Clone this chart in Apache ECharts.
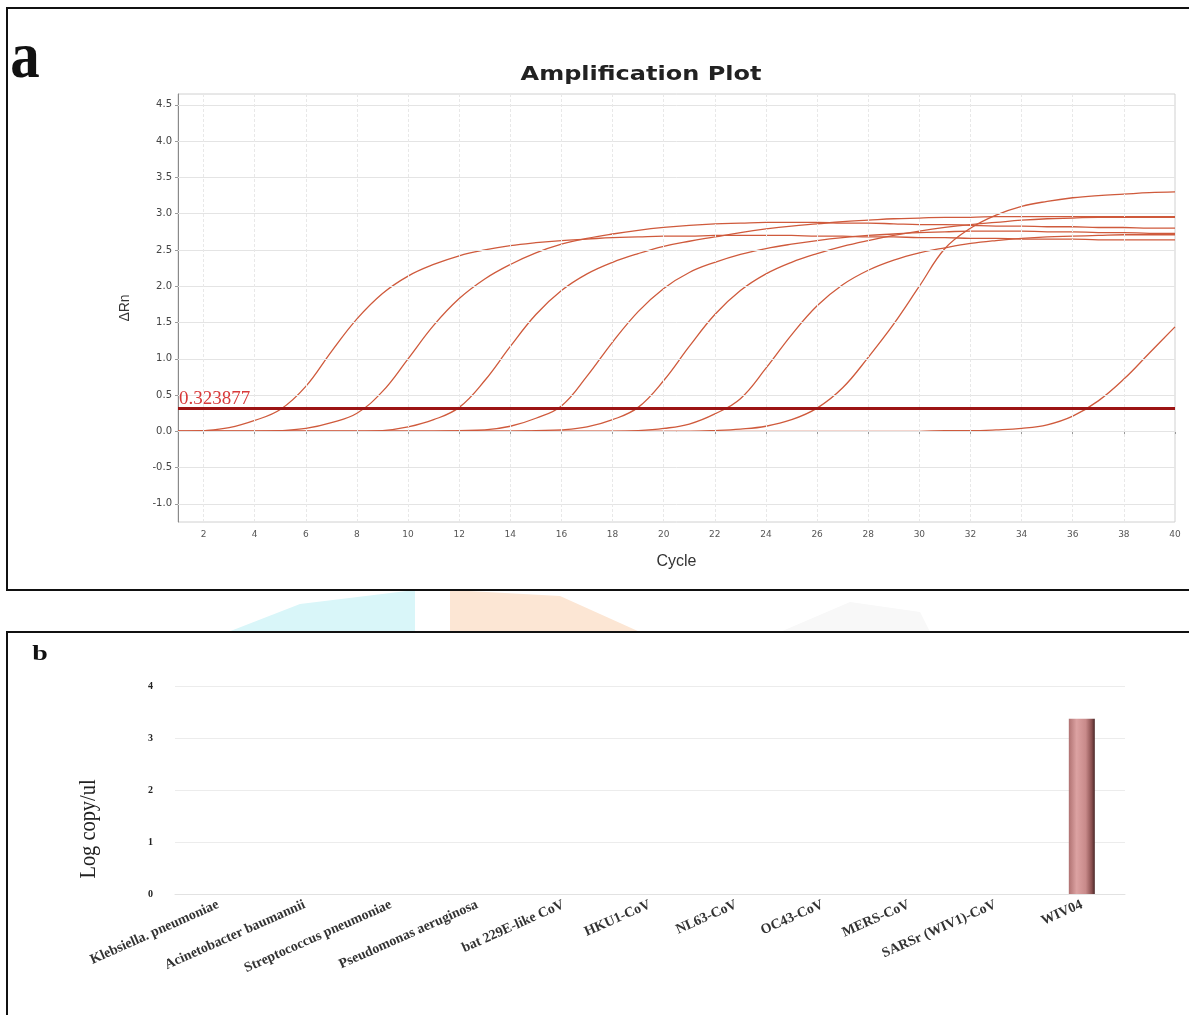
<!DOCTYPE html>
<html>
<head>
<meta charset="utf-8">
<script src="https://cdn.jsdelivr.net/npm/echarts@6/dist/echarts.min.js"></script>
<style>
html,body{margin:0;padding:0;background:#fff;}
#chart{width:1189px;height:1015px;}
</style>
</head>
<body>
<div id="chart"></div>
<script>
// ---------- Panel a data ----------
const cycles = [1,2,3,4,5,6,7,8,9,10,11,12,13,14,15,16,17,18,19,20,21,22,23,24,25,26,27,28,29,30,31,32,33,34,35,36,37,38,39,40];
const cycleTicks = [2,4,6,8,10,12,14,16,18,20,22,24,26,28,30,32,34,36,38,40];
const deltaRnTicks = [-1.0,-0.5,0.0,0.5,1.0,1.5,2.0,2.5,3.0,3.5,4.0,4.5];
const threshold = 0.323877;

const curve1 = [0.00,0.01,0.05,0.15,0.30,0.62,1.10,1.55,1.90,2.14,2.30,2.42,2.50,2.56,2.60,2.63,2.65,2.67,2.68,2.69,2.69,2.70,2.70,2.70,2.70,2.69,2.69,2.68,2.68,2.67,2.67,2.66,2.66,2.65,2.65,2.65,2.64,2.64,2.64,2.64];
const curve2 = [0.00,0.00,0.00,0.00,0.01,0.04,0.12,0.25,0.55,1.00,1.46,1.83,2.10,2.30,2.46,2.58,2.66,2.72,2.77,2.81,2.84,2.86,2.87,2.88,2.88,2.88,2.87,2.87,2.86,2.85,2.85,2.84,2.83,2.83,2.82,2.82,2.81,2.81,2.80,2.80];
const curve3 = [0.00,0.00,0.00,0.00,0.00,0.00,0.00,0.00,0.01,0.06,0.16,0.33,0.70,1.17,1.61,1.94,2.17,2.33,2.45,2.55,2.62,2.68,2.74,2.79,2.83,2.86,2.89,2.91,2.93,2.94,2.95,2.95,2.96,2.96,2.96,2.96,2.96,2.96,2.96,2.96];
const curve4 = [0.00,0.00,0.00,0.00,0.00,0.00,0.00,0.00,0.00,0.00,0.00,0.01,0.02,0.07,0.18,0.35,0.76,1.23,1.65,1.97,2.19,2.33,2.44,2.52,2.58,2.63,2.67,2.70,2.72,2.74,2.75,2.76,2.76,2.76,2.75,2.75,2.74,2.74,2.73,2.73];
const curve5 = [0.00,0.00,0.00,0.00,0.00,0.00,0.00,0.00,0.00,0.00,0.00,0.00,0.00,0.00,0.01,0.02,0.06,0.16,0.33,0.70,1.17,1.61,1.94,2.17,2.33,2.45,2.55,2.63,2.70,2.76,2.81,2.85,2.88,2.91,2.93,2.94,2.95,2.95,2.95,2.95];
const curve6 = [0.00,0.00,0.00,0.00,0.00,0.00,0.00,0.00,0.00,0.00,0.00,0.00,0.00,0.00,0.00,0.00,0.00,0.00,0.01,0.04,0.10,0.24,0.45,0.87,1.33,1.73,2.02,2.22,2.36,2.46,2.53,2.59,2.63,2.66,2.68,2.69,2.70,2.71,2.71,2.71];
const curve7 = [0.00,0.00,0.00,0.00,0.00,0.00,0.00,0.00,0.00,0.00,0.00,0.00,0.00,0.00,0.00,0.00,0.00,0.00,0.00,0.00,0.00,0.01,0.03,0.07,0.16,0.32,0.60,1.02,1.48,2.00,2.52,2.80,2.98,3.10,3.17,3.22,3.25,3.27,3.29,3.30];
const curve8 = [0.00,0.00,0.00,0.00,0.00,0.00,0.00,0.00,0.00,0.00,0.00,0.00,0.00,0.00,0.00,0.00,0.00,0.00,0.00,0.00,0.00,0.00,0.00,0.00,0.00,0.00,0.00,0.00,0.00,0.00,0.01,0.01,0.02,0.04,0.09,0.21,0.42,0.72,1.08,1.44];
const curves = [curve1,curve2,curve3,curve4,curve5,curve6,curve7,curve8];

// ---------- Panel b data ----------
const species = ['Klebsiella. pneumoniae','Acinetobacter baumannii','Streptococcus pneumoniae','Pseudomonas aeruginosa','bat 229E-like CoV','HKU1-CoV','NL63-CoV','OC43-CoV','MERS-CoV','SARSr (WIV1)-CoV','WIV04'];
const logCopies = [0,0,0,0,0,0,0,0,0,0,3.37];
const logTicks = [0,1,2,3,4];

// ---------- build ----------
const chart = echarts.init(document.getElementById('chart'), null, {renderer:'canvas'});

const curveSeries = curves.map(function(vals){
  return {
    type:'line', xAxisIndex:0, yAxisIndex:0, z:4,
    data: cycles.map(function(c, j){ return [c, vals[j]]; }),
    smooth:0.4, showSymbol:false, symbol:'none',
    lineStyle:{color:'#cf5a3c', width:1.3},
    silent:true
  };
});

const gridLineSeries = {
  type:'line', xAxisIndex:0, yAxisIndex:0, z:1, data:[], silent:true,
  markLine:{
    silent:true, symbol:['none','none'], animation:false,
    label:{show:false},
    lineStyle:{color:'#e4e4e4', width:1, type:'solid'},
    data: deltaRnTicks.map(function(v){ return {yAxis:v}; })
      .concat(cycleTicks.map(function(v){ return {xAxis:v, lineStyle:{color:'#e8e8e8', type:[3,2]}}; }))
  }
};

const thresholdSeries = {
  type:'line', xAxisIndex:0, yAxisIndex:0, z:6, data:[], silent:true,
  markLine:{
    silent:true, symbol:['none','none'], animation:false,
    lineStyle:{color:'#9c1414', width:3, type:'solid'},
    label:{show:true, position:'insideStartTop', formatter:'0.323877', color:'#d83a3a',
      fontFamily:'Liberation Serif', fontSize:19, distance:[1,0]},
    data:[{yAxis:threshold}]
  }
};

const barSeries = {
  type:'bar', xAxisIndex:1, yAxisIndex:1, data:logCopies, barWidth:26, silent:true,
  itemStyle:{
    color: new echarts.graphic.LinearGradient(0,0,1,0,[
      {offset:0, color:'#b07272'},
      {offset:0.3, color:'#dca2a2'},
      {offset:0.65, color:'#c88a8a'},
      {offset:0.88, color:'#8a5050'},
      {offset:1, color:'#4a2828'}
    ])
  }
};

const option = {
  animation:false,
  backgroundColor:'#ffffff',
  grid:[
    {left:178, top:94, width:997, height:428, show:true, borderColor:'#d0d0d0', borderWidth:1, backgroundColor:'transparent'},
    {left:175, top:686, width:950, height:208, show:false}
  ],
  xAxis:[
    {gridIndex:0, type:'value', min:1, max:40,
      name:'Cycle', nameLocation:'middle', nameGap:32,
      nameTextStyle:{fontFamily:'Liberation Sans', fontSize:16, color:'#333'},
      axisLine:{show:true, lineStyle:{color:'#8a8a8a'}},
      axisTick:{show:true, length:3, lineStyle:{color:'#999'}, customValues:cycleTicks},
      axisLabel:{fontSize:9, color:'#555', fontFamily:'DejaVu Sans', margin:8, customValues:cycleTicks},
      splitLine:{show:false}
    },
    {gridIndex:1, type:'category', data:species,
      axisLine:{show:true, lineStyle:{color:'#e2e2e2'}},
      axisTick:{show:false},
      axisLabel:{interval:0, rotate:24, fontFamily:'Liberation Serif', fontWeight:'bold', fontSize:14, color:'#333', margin:10},
      splitLine:{show:false}
    }
  ],
  yAxis:[
    {gridIndex:0, type:'value', min:-1.25, max:4.65,
      name:'ΔRn', nameLocation:'middle', nameGap:46,
      nameTextStyle:{fontFamily:'Liberation Sans', fontSize:14, color:'#333'},
      axisLine:{show:true, lineStyle:{color:'#8a8a8a'}},
      axisTick:{show:true, length:3, lineStyle:{color:'#999'}, customValues:deltaRnTicks},
      axisLabel:{fontSize:10, color:'#444', fontFamily:'DejaVu Sans', margin:6, customValues:deltaRnTicks,
        formatter:function(v){ return v.toFixed(1); }},
      splitLine:{show:false}
    },
    {gridIndex:1, type:'value', min:0, max:4, interval:1,
      axisLine:{show:false}, axisTick:{show:false},
      axisLabel:{fontFamily:'Liberation Serif', fontWeight:'bold', fontSize:10, color:'#222', margin:22},
      splitLine:{show:true, lineStyle:{color:'#ececec', width:1}}
    }
  ],
  series:[gridLineSeries].concat(curveSeries).concat([thresholdSeries, barSeries]),
  graphic:[
    // watermark fragments between panels
    {type:'polygon', silent:true, z:0, shape:{points:[[228,632],[300,604],[415,590],[415,632]]}, style:{fill:'#d9f6f9'}},
    {type:'polygon', silent:true, z:0, shape:{points:[[450,590],[560,596],[640,632],[450,632]]}, style:{fill:'#fce6d4'}},
    {type:'polygon', silent:true, z:0, shape:{points:[[780,632],[850,602],[920,612],[930,632]]}, style:{fill:'#f8f8f8'}},
    // panel borders
    {type:'rect', silent:true, z:10, shape:{x:7, y:8, width:1192, height:582}, style:{fill:'none', stroke:'#111', lineWidth:2}},
    {type:'rect', silent:true, z:10, shape:{x:7, y:632, width:1192, height:420}, style:{fill:'none', stroke:'#111', lineWidth:2}},
    // panel letters
    {type:'text', silent:true, z:10, x:25, y:60, scaleX:0.95, scaleY:1.05, style:{text:'a', font:'bold 62px "Liberation Serif"', fill:'#111', textAlign:'center', textVerticalAlign:'middle'}},
    {type:'text', silent:true, z:10, x:40, y:655, scaleX:1.4, style:{text:'b', font:'bold 20px "Liberation Serif"', fill:'#111', textAlign:'center', textVerticalAlign:'middle'}},
    // title
    {type:'text', silent:true, z:10, x:641, y:75, scaleX:1.2, style:{text:'Amplification Plot', font:'bold 20px "DejaVu Sans"', fill:'#222', textAlign:'center', textVerticalAlign:'middle'}},
    // y name panel b
    {type:'text', silent:true, z:10, x:89, y:829, rotation:Math.PI/2, scaleX:0.85, style:{text:'Log copy/ul', font:'24px "Liberation Serif"', fill:'#222', textAlign:'center', textVerticalAlign:'middle'}}
  ]
};

chart.setOption(option);
</script>
</body>
</html>
